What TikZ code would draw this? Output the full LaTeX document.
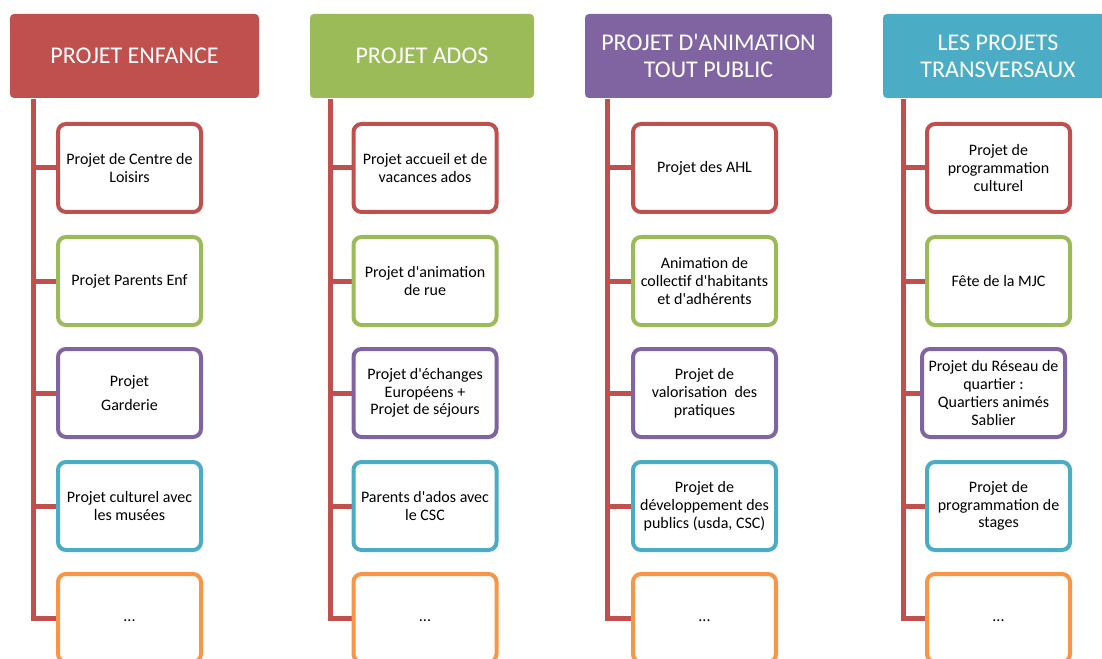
\documentclass[tikz,border=0pt]{standalone}
\usepackage{fontspec}
\setmainfont{Carlito}
\usetikzlibrary{backgrounds}
\definecolor{ored}{HTML}{C0504D}
\definecolor{ogreen}{HTML}{9BBB59}
\definecolor{opurple}{HTML}{8064A2}
\definecolor{ocyan}{HTML}{4BACC6}
\definecolor{oorange}{HTML}{F79646}
\newcommand{\ap}{\textquotesingle}
\tikzset{
  head/.style={fill=#1, rounded corners=3pt, text=white, align=center,
    minimum height=63pt, inner sep=0pt, font=\fontsize{18}{20.5}\selectfont},
  item/.style={draw=#1, fill=white, line width=3pt, rounded corners=6pt,
    align=center, minimum width=107.25pt, minimum height=66pt, inner sep=0pt,
    font=\fontsize{12}{13.3}\selectfont},
  spine/.style={draw=ored, line width=3.75pt},
}

\begin{document}
\begin{tikzpicture}[x=0.75pt,y=-0.75pt]
\clip (0,0) rectangle (1102,659);
% headers
\node[head=ored, minimum width=186.75pt] (enfance) at (134.5,56) {PROJET ENFANCE};
\node[head=ogreen, minimum width=168pt] (ados) at (422,56) {PROJET ADOS};
\node[head=opurple, minimum width=185.25pt] (tout) at (708.5,56) {PROJET D\ap ANIMATION\\TOUT PUBLIC};
\node[head=ocyan, minimum width=172.5pt] (transv) at (998,56) {LES PROJETS\\TRANSVERSAUX};
% projet enfance
\node[item=ored] (e1) at (129.5,168) {Projet de Centre de\\Loisirs};
\node[item=ogreen] (e2) at (129.5,281) {Projet Parents Enf};
\node[item=opurple] (e3) at (129.5,393) {Projet\\[5pt]Garderie};
\node[item=ocyan] (e4) at (129.5,506) {Projet culturel avec\\les musées};
\node[item=oorange] (e5) at (129.5,618) {\strut...};
% projet ados
\node[item=ored] (a1) at (425,168) {Projet accueil et de\\vacances ados};
\node[item=ogreen] (a2) at (425,281) {Projet d\ap animation\\de rue};
\node[item=opurple] (a3) at (425,393) {Projet d\ap échanges\\Européens +\\Projet de séjours};
\node[item=ocyan] (a4) at (425,506) {Parents d\ap ados avec\\le CSC};
\node[item=oorange] (a5) at (425,618) {\strut...};
% projet tout public
\node[item=ored] (t1) at (704.5,168) {Projet des AHL};
\node[item=ogreen] (t2) at (704.5,281) {Animation de\\collectif d\ap habitants\\et d\ap adhérents};
\node[item=opurple] (t3) at (704.5,393) {Projet de\\valorisation\ \ des\\pratiques};
\node[item=ocyan] (t4) at (704.5,506) {Projet de\\développement des\\publics (usda, CSC)};
\node[item=oorange] (t5) at (704.5,618) {\strut...};
% projets transversaux
\node[item=ored] (v1) at (998.5,168) {Projet de\\programmation\\culturel};
\node[item=ogreen] (v2) at (998.5,281) {Fête de la MJC};
\node[item=opurple] (v3) at (993.5,393) {Projet du Réseau de\\quartier :\\Quartiers animés\\Sablier};
\node[item=ocyan] (v4) at (998.5,506) {Projet de\\programmation de\\stages};
\node[item=oorange] (v5) at (998.5,618) {\strut...};
% spines
\begin{scope}[on background layer]
\coordinate (es) at (33,99);
\coordinate (as) at (330,99);
\coordinate (ts) at (607,99);
\coordinate (vs) at (903,99);
\foreach \c in {e,a,t,v} {
  \draw[spine] (\c s) |- (\c5.west);
  \foreach \i in {1,...,4}
    \draw[spine] (\c\i.west) -- (\c\i.west -| \c s);
}
\end{scope}
\end{tikzpicture}
\end{document}
